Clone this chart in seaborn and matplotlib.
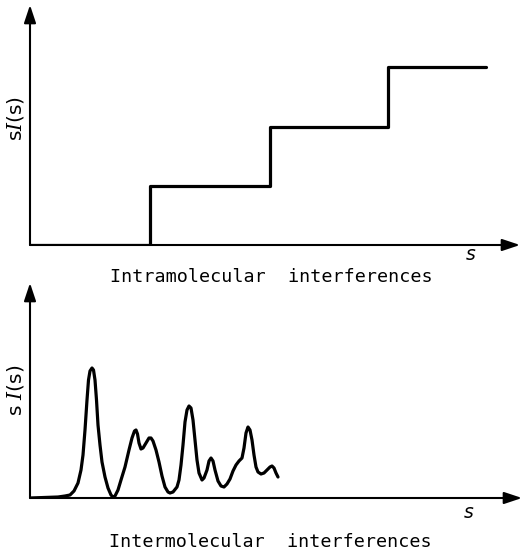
import matplotlib
matplotlib.use("Agg")
import matplotlib.pyplot as plt
import seaborn as sns

sns.set_theme(style="white")
plt.rcParams['font.family'] = ['DejaVu Sans']
plt.rcParams['mathtext.fontset'] = 'dejavuserif'

# Top panel: intramolecular step function
step_s = [0.0, 12.0, 24.0, 35.8, 45.6]
step_val = [0.0, 5.9, 11.8, 17.8, 17.8]

# Bottom panel: intermolecular interference curve
curve_s = [0.0, 2.8, 3.5, 4.0, 4.4, 4.8, 5.1, 5.3, 5.5, 5.7, 5.85, 6.0, 6.2, 6.35,
           6.5, 6.65, 6.8, 7.0, 7.2, 7.5, 7.8, 8.1, 8.3, 8.5, 8.8, 9.1, 9.5, 9.9,
           10.2, 10.45, 10.6, 10.75, 10.9, 11.1, 11.3, 11.6, 11.9, 12.1, 12.3,
           12.6, 12.9, 13.2, 13.5, 13.8, 14.0, 14.3, 14.7, 14.9, 15.1, 15.3, 15.5,
           15.7, 15.9, 16.1, 16.3, 16.5, 16.7, 16.9, 17.2, 17.4, 17.7, 17.9, 18.1,
           18.3, 18.5, 18.8, 19.1, 19.4, 19.7, 20.0, 20.3, 20.6, 20.9, 21.2, 21.4,
           21.6, 21.8, 22.0, 22.2, 22.4, 22.6, 22.8, 23.1, 23.4, 23.7, 24.0, 24.2,
           24.4, 24.6, 24.8]
curve_val = [0.0, 0.1, 0.2, 0.3, 0.7, 1.5, 2.8, 4.3, 6.8, 9.8, 11.8, 12.7, 13.0, 12.8,
             11.8, 9.8, 7.3, 5.3, 3.6, 2.1, 1.0, 0.3, 0.1, 0.2, 0.8, 1.8, 3.1, 4.8,
             6.0, 6.7, 6.8, 6.4, 5.5, 4.9, 5.0, 5.5, 6.0, 6.0, 5.7,
             4.8, 3.6, 2.2, 1.1, 0.6, 0.5, 0.6, 1.1, 1.8, 3.3, 5.3, 7.6,
             8.8, 9.2, 9.0, 7.8, 5.8, 3.8, 2.5, 1.8, 2.0, 2.8, 3.7, 4.0,
             3.7, 2.8, 1.7, 1.2, 1.1, 1.4, 1.9, 2.7, 3.3, 3.7, 4.0, 5.0,
             6.5, 7.1, 6.8, 5.8, 4.3, 3.1, 2.6, 2.4, 2.5, 2.8, 3.1, 3.2,
             3.0, 2.5, 2.1]

W, H = 524, 556
fig = plt.figure(figsize=(W / 100, H / 100), dpi=100)

def px_axes(x0, y_top, x1, y_bot):
    return fig.add_axes([x0 / W, (H - y_bot) / H, (x1 - x0) / W, (y_bot - y_top) / H])

ax1 = px_axes(30, 5, 520, 245)
ax2 = px_axes(30, 283, 522, 498)

sns.lineplot(x=step_s, y=step_val, ax=ax1, color='black', linewidth=2.3,
             drawstyle='steps-post', estimator=None, sort=False)
sns.lineplot(x=curve_s, y=curve_val, ax=ax2, color='black', linewidth=2.3,
             estimator=None, sort=False, solid_joinstyle='round',
             solid_capstyle='round')

ax1.set_xlim(0, 49.0)
ax1.set_ylim(0, 24.0)
ax2.set_xlim(0, 49.2)
ax2.set_ylim(0, 21.5)

for ax in (ax1, ax2):
    for sp in ax.spines.values():
        sp.set_visible(False)
    ax.set_xticks([])
    ax.set_yticks([])
    ax.set_xlabel('')
    ax.set_ylabel('')
    ax.patch.set_alpha(0)
    arrow = dict(arrowstyle='-|>,head_length=0.9,head_width=0.3', color='black',
                 linewidth=1.5, shrinkA=0, shrinkB=0)
    ax.annotate('', xy=(1, 0), xycoords='axes fraction', xytext=(0, 0),
                textcoords='axes fraction', arrowprops=arrow, annotation_clip=False)
    ax.annotate('', xy=(0, 1), xycoords='axes fraction', xytext=(0, 0),
                textcoords='axes fraction', arrowprops=arrow, annotation_clip=False)

def ftext(x, y, s, **kw):
    fig.text(x / W, 1 - y / H, s, ha='center', va='center', color='black', **kw)

ftext(271, 277, 'Intramolecular  interferences', fontsize=13.2,
      family='DejaVu Sans Mono')
ftext(270, 542, 'Intermolecular  interferences', fontsize=13.2,
      family='DejaVu Sans Mono')
ftext(471, 255, 's', fontsize=13.5, style='italic')
ftext(469, 513, 's', fontsize=13.5, style='italic')
ftext(15, 119, r's$\mathit{I}$(s)', fontsize=14.5, rotation=90)
ftext(15, 390, r's $\mathit{I}$(s)', fontsize=14.5, rotation=90)

fig.savefig('out.png', dpi=100)
